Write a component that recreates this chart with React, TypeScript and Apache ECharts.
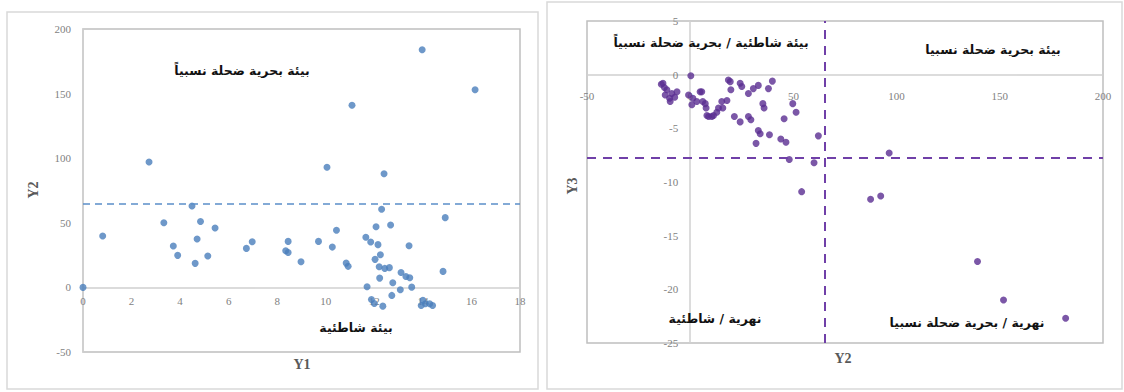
import React, { useEffect, useRef } from "react";
import * as echarts from "echarts";

// Left panel: Y1 (x) vs Y2 (y)
const leftPoints: number[][] = [
  [0, 0], [0.81, 39.8], [2.72, 97], [3.33, 50], [3.72, 32], [3.9, 24.8], [4.49, 63], [4.84, 51],
  [4.7, 37.5], [5.44, 46], [5.14, 24.3], [4.62, 18.6], [6.73, 30.2], [6.97, 35.4], [8.45, 35.6],
  [8.35, 28.4], [8.45, 27], [8.98, 19.9], [9.7, 35.6], [10.05, 93], [10.44, 44.2], [10.27, 31.2],
  [10.84, 18.8], [10.92, 16.3], [11.08, 141], [12.3, 60.5], [12.07, 47], [12.67, 48.3], [11.65, 38.8],
  [11.85, 35.1], [12.15, 33.1], [12.25, 25.3], [12.03, 21.7], [12.2, 16], [12.43, 14.7], [12.62, 15.3],
  [12.22, 7.2], [12.76, 3.6], [12.4, 88], [13.1, 11.6], [13.3, 8.5], [13.46, 7.5], [13.43, 32.3],
  [13.54, 0.2], [13.07, -1.8], [12.72, -6.2], [11.7, 0.5], [11.88, -9.3], [12.35, -14.5], [12.0, -12.4],
  [13.97, 184], [14.0, -10], [14.1, -12.7], [14.28, -12.7], [14.4, -14], [13.93, -14], [14.92, 54],
  [14.83, 12.4], [16.15, 153],
];

// Right panel: Y2 (x) vs Y3 (y)
const rightPoints: number[][] = [
  [0.3, -0.1], [-14, -0.9], [-13.2, -0.8], [-11.3, -1.4], [-8.9, -1.75], [-6.4, -1.6], [-10, -2.2],
  [-12.1, -1.9], [-9.7, -2.5], [-12.5, -1.2], [-7.5, -2.1], [-0.8, -1.9], [1.3, -2.2], [0.8, -2.8],
  [3.2, -2.5], [4.8, -1.6], [5.6, -1.6], [6.1, -2.5], [7.3, -2.7], [7.7, -3.1], [8.1, -3.8], [8.9, -3.9],
  [10.5, -3.9], [11.3, -3.8], [12.9, -3.5], [13.7, -3.1], [15.3, -2.5], [15.8, -3.1], [17.8, -2.4],
  [18.5, -0.5], [19.4, -0.65], [19.7, -1.4], [21.4, -3.9], [24.2, -0.8], [25, -1.1], [24.2, -4.4],
  [28.2, -1.75], [28.2, -3.9], [29.4, -4.2], [30.6, -1.3], [33, -1], [33, -5.2], [33.9, -5.5],
  [31.9, -6.4], [35.2, -2.7], [35.8, -3.1], [37.9, -1.3], [39.8, -0.6], [38.4, -5.6], [43.9, -6],
  [46.4, -6.3], [45.5, -4.1], [49.7, -2.7], [51.3, -3.5], [48, -7.9], [54, -10.9], [60, -8.2],
  [62.1, -5.7], [87.4, -11.6], [92.3, -11.3], [96.4, -7.3], [139.2, -17.4], [151.8, -21], [181.9, -22.7],
];

const leftThresholdY2 = 65;
const rightThresholdY2 = 65;
const rightThresholdY3 = -7.7;

const leftXRange = [0, 18, 2];
const leftYRange = [-50, 200, 50];
const rightXRange = [-50, 200, 50];
const rightYRange = [-25, 5, 5];

const labels = {
  leftTop: "بيئة بحرية ضحلة نسبياً",
  leftBottom: "بيئة شاطئية",
  rightTopLeft: "بيئة شاطئية / بحرية ضحلة نسبياً",
  rightTopRight: "بيئة بحرية ضحلة نسبيا",
  rightBottomLeft: "نهرية / شاطئية",
  rightBottomRight: "نهرية / بحرية ضحلة نسبيا",
};

const tickStyle = { color: "#7f7f7f", fontSize: 11, fontFamily: "Liberation Serif" };
const arabicStyle = { fill: "#111", fontSize: 12.5, fontWeight: "bold" as const, fontFamily: "DejaVu Sans", align: "center" as const, verticalAlign: "middle" as const };
const nameStyle = { fill: "#595959", fontSize: 14, fontWeight: "bold" as const, fontFamily: "Liberation Serif", align: "center" as const, verticalAlign: "middle" as const };

// grid geometry
const LG = { left: 83, top: 29, width: 437, height: 323 };
const RG = { left: 587, top: 21, width: 516, height: 322 };

export default function App() {
  const ref = useRef<HTMLDivElement>(null);
  useEffect(() => {
    if (!ref.current) return;
    const chart = echarts.init(ref.current, null, { renderer: "svg" });
    // offsets to put axes at the zero crossing
    const leftXOffset = -(LG.height * (0 - leftYRange[0])) / (leftYRange[1] - leftYRange[0]);
    const rightXOffset = -(RG.height * (0 - rightYRange[0])) / (rightYRange[1] - rightYRange[0]);
    const rightYOffset = -(RG.width * (0 - rightXRange[0])) / (rightXRange[1] - rightXRange[0]);
    chart.setOption({
      animation: false,
      backgroundColor: "#ffffff",
      grid: [
        { ...LG, show: true, borderColor: "#bfbfbf", borderWidth: 1.5, containLabel: false },
        { ...RG, show: true, borderColor: "#bfbfbf", borderWidth: 1.5, containLabel: false },
      ],
      xAxis: [
        {
          gridIndex: 0, type: "value", position: "bottom", offset: leftXOffset,
          min: leftXRange[0], max: leftXRange[1], interval: leftXRange[2],
          axisLine: { onZero: false, lineStyle: { color: "#d0d0d0", width: 1.5 } },
          axisTick: { show: false }, splitLine: { show: false },
          axisLabel: { ...tickStyle, margin: 8 },
        },
        {
          gridIndex: 1, type: "value", position: "bottom", offset: rightXOffset,
          min: rightXRange[0], max: rightXRange[1], interval: rightXRange[2],
          axisLine: { onZero: false, lineStyle: { color: "#d0d0d0", width: 1.5 } },
          axisTick: { show: false }, splitLine: { show: false },
          axisLabel: { ...tickStyle, margin: 16 },
        },
      ],
      yAxis: [
        {
          gridIndex: 0, type: "value", position: "left",
          min: leftYRange[0], max: leftYRange[1], interval: leftYRange[2],
          axisLine: { onZero: false, show: true, lineStyle: { color: "#d0d0d0", width: 1.5 } },
          axisTick: { show: false }, splitLine: { show: false },
          axisLabel: { ...tickStyle, margin: 12 },
        },
        {
          gridIndex: 1, type: "value", position: "left", offset: rightYOffset,
          min: rightYRange[0], max: rightYRange[1], interval: rightYRange[2],
          axisLine: { onZero: false, show: true, lineStyle: { color: "#d0d0d0", width: 1.5 } },
          axisTick: { show: false }, splitLine: { show: false },
          axisLabel: { ...tickStyle, margin: 12 },
        },
      ],
      series: [
        {
          type: "scatter", xAxisIndex: 0, yAxisIndex: 0, data: leftPoints, symbolSize: 7,
          itemStyle: { color: "#4a7ebb" },
          markLine: {
            silent: true, symbol: ["none", "none"], label: { show: false },
            lineStyle: { type: [7, 5], color: "#5b8fc9", width: 1.5 },
            data: [{ yAxis: leftThresholdY2 }],
          },
        },
        {
          type: "scatter", xAxisIndex: 1, yAxisIndex: 1, data: rightPoints, symbolSize: 7,
          itemStyle: { color: "#5a2d91" },
          markLine: {
            silent: true, symbol: ["none", "none"], label: { show: false },
            lineStyle: { type: [9, 7], color: "#7040a8", width: 2 },
            data: [{ xAxis: rightThresholdY2 }, { yAxis: rightThresholdY3 }],
          },
        },
      ],
      graphic: [
        { type: "rect", shape: { x: 7, y: 12, width: 531, height: 377 }, style: { fill: "none", stroke: "#d9d9d9", lineWidth: 1.5 }, silent: true, z: -1 },
        { type: "rect", shape: { x: 547, y: 2, width: 575, height: 387 }, style: { fill: "none", stroke: "#d9d9d9", lineWidth: 1.5 }, silent: true, z: -1 },
        { type: "text", x: 242, y: 70, style: { ...arabicStyle, text: labels.leftTop }, z: 10 },
        { type: "text", x: 356, y: 327, style: { ...arabicStyle, text: labels.leftBottom }, z: 10 },
        { type: "text", x: 711, y: 42, style: { ...arabicStyle, text: labels.rightTopLeft }, z: 10 },
        { type: "text", x: 993, y: 49, style: { ...arabicStyle, text: labels.rightTopRight }, z: 10 },
        { type: "text", x: 715, y: 318, style: { ...arabicStyle, text: labels.rightBottomLeft }, z: 10 },
        { type: "text", x: 967, y: 322, style: { ...arabicStyle, text: labels.rightBottomRight }, z: 10 },
        { type: "text", x: 302, y: 364, style: { ...nameStyle, text: "Y1" }, z: 10 },
        { type: "text", x: 33, y: 190, rotation: Math.PI / 2, style: { ...nameStyle, text: "Y2" }, z: 10 },
        { type: "text", x: 843, y: 358, style: { ...nameStyle, text: "Y2" }, z: 10 },
        { type: "text", x: 572, y: 186, rotation: Math.PI / 2, style: { ...nameStyle, text: "Y3" }, z: 10 },
      ],
    });
    return () => chart.dispose();
  }, []);
  return (
    <div ref={ref} style={{ position: "absolute", left: 0, top: 0, width: 1124, height: 392, background: "#fff" }} />
  );
}
